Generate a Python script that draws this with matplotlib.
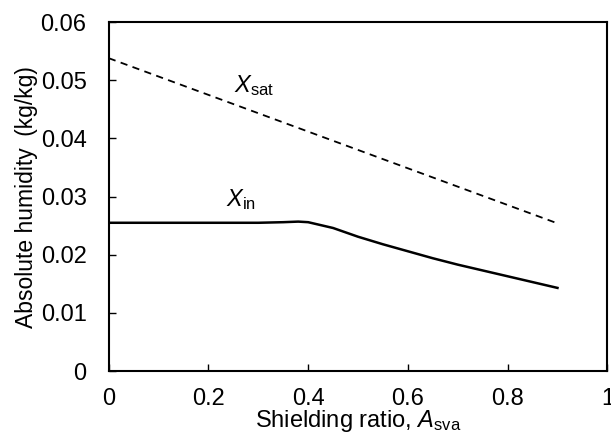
import matplotlib
matplotlib.use("Agg")
import matplotlib.pyplot as plt

plt.rcParams["font.family"] = ["Liberation Sans", "Noto Sans CJK JP", "DejaVu Sans"]
plt.rcParams["mathtext.fontset"] = "custom"
plt.rcParams["mathtext.rm"] = "Liberation Sans"
plt.rcParams["mathtext.it"] = "Liberation Sans:italic"

# shielding ratio vs absolute humidity
ratio_in = [0.0, 0.1, 0.2, 0.3, 0.35, 0.38, 0.4, 0.45, 0.5, 0.55,
            0.6, 0.65, 0.7, 0.75, 0.8, 0.85, 0.9]
humidity_in = [0.0255, 0.0255, 0.0255, 0.0255, 0.0256, 0.0257, 0.0256, 0.0246, 0.0231, 0.0218,
               0.0206, 0.0194, 0.0183, 0.0173, 0.0163, 0.0153, 0.0143]
ratio_sat = [0.0, 0.9]
humidity_sat = [0.0538, 0.0254]

x_ticks = [0, 0.2, 0.4, 0.6, 0.8, 1]
x_tick_labels = ["0", "0.2", "0.4", "0.6", "0.8", "1"]
y_ticks = [0, 0.01, 0.02, 0.03, 0.04, 0.05, 0.06]
y_tick_labels = ["0", "0.01", "0.02", "0.03", "0.04", "0.05", "0.06"]

fig = plt.figure(figsize=(6.11, 4.34), dpi=100)
ax = fig.add_axes([0.178, 0.145, 0.816, 0.804])

ax.plot(ratio_sat, humidity_sat, color="black", lw=1.3, dashes=(4, 3))
ax.plot(ratio_in, humidity_in, color="black", lw=1.8)

ax.text(0.252, 0.0479, r"$X_{\mathrm{sat}}$", fontsize=17)
ax.text(0.236, 0.0283, r"$X_{\mathrm{in}}$", fontsize=17)

ax.set_xlim(0, 1)
ax.set_ylim(0, 0.06)
ax.set_xticks(x_ticks)
ax.set_xticklabels(x_tick_labels)
ax.set_yticks(y_ticks)
ax.set_yticklabels(y_tick_labels)
ax.tick_params(direction="in", length=5, width=1, labelsize=17)
ax.tick_params(axis="x", pad=12)
ax.tick_params(axis="y", pad=16)
for spine in ax.spines.values():
    spine.set_linewidth(1.5)

ax.set_xlabel(r"Shielding ratio, $A_{\mathrm{sva}}$", fontsize=17, labelpad=-1)
ax.set_ylabel("Absolute humidity\u2002(kg/kg)", fontsize=16.5, labelpad=2)

fig.savefig("out.png", dpi=100)
